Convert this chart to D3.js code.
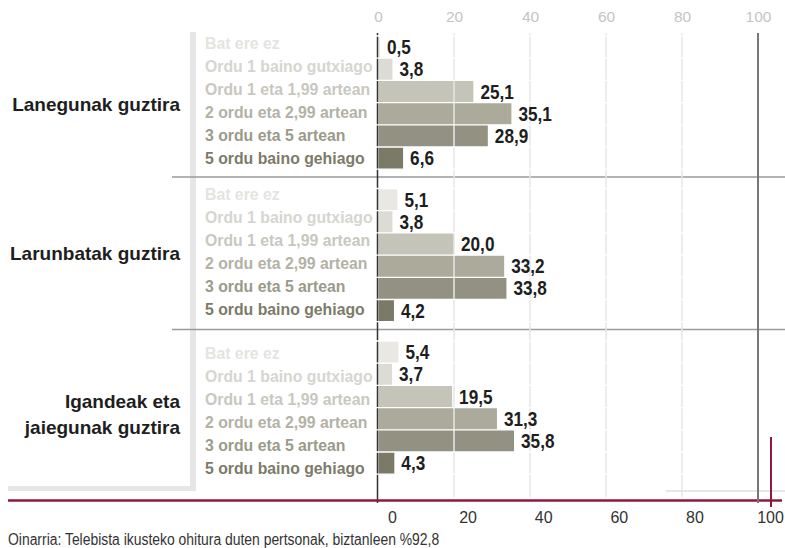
<!DOCTYPE html>
<html><head><meta charset="utf-8">
<script src="https://cdn.jsdelivr.net/npm/d3@7"></script>
<style>
html,body{margin:0;padding:0;background:#fff;}
svg{display:block;}
text{font-family:"Liberation Sans", Arial, Helvetica, sans-serif;}
</style></head><body>
<svg id="chart" width="785" height="548"></svg>
<script>
// ---- data ----
const groups = ["Lanegunak guztira", "Larunbatak guztira", "Igandeak eta jaiegunak guztira"];
const groupLines = [["Lanegunak guztira"], ["Larunbatak guztira"], ["Igandeak eta", "jaiegunak guztira"]];
const categories = ["Bat ere ez", "Ordu 1 baino gutxiago", "Ordu 1 eta 1,99 artean",
                    "2 ordu eta 2,99 artean", "3 ordu eta 5 artean", "5 ordu baino gehiago"];
const lanegunak  = [0.5, 3.8, 25.1, 35.1, 28.9, 6.6];
const larunbatak = [5.1, 3.8, 20.0, 33.2, 33.8, 4.2];
const igandeak   = [5.4, 3.7, 19.5, 31.3, 35.8, 4.3];
const seriesValues = [lanegunak, larunbatak, igandeak];
const tickValues = [0, 20, 40, 60, 80, 100];
const footnote = "Oinarria: Telebista ikusteko ohitura duten pertsonak, biztanleen %92,8";

// ---- styles ----
const barColors   = ["#e9e8e3", "#dcdbd4", "#c5c4b9", "#abaa9b", "#939282", "#7b7a66"];
const labelColors = ["#e4e4e0", "#d6d6d0", "#c8c8bf", "#b3b2a5", "#9b9a89", "#7c7b69"];
const crimson = "#8e1a3b";
const rowLabelShift = [0, -1.5, 5];
const groupLabelShift = [0, -4, 5];

const svg = d3.select("#chart");

// ---- scales ----
const x = d3.scaleLinear().domain([0, 100]).range([378, 758]);
const xb = d3.scaleLinear().domain([0, 100]).range([392, 770]);
const gy = d3.scaleBand().domain(groups).range([24.5, 482]).padding(0);
const ry = d3.scaleBand().domain(categories).range([11.5, 144.7]).padding(0);

const rows = [];
groups.forEach((g, gi) => {
  categories.forEach((c, ci) => {
    rows.push({g, gi, c, ci, v: seriesValues[gi][ci], y: gy(g) + ry(c)});
  });
});

// ---- left L band ----
svg.append("rect").attr("x", 190).attr("y", 32).attr("width", 6).attr("height", 459).attr("fill", "#e6e6e6");
svg.append("rect").attr("x", 8).attr("y", 486).attr("width", 188).attr("height", 5).attr("fill", "#e6e6e6");

// ---- group separators ----
svg.selectAll("line.sep").data(groups.slice(1)).join("line")
  .attr("x1", 172).attr("x2", 785)
  .attr("y1", d => gy(d)).attr("y2", d => gy(d))
  .attr("stroke", "#9a9a9a").attr("stroke-width", 1.5);

// ---- bars ----
svg.selectAll("rect.bar").data(rows).join("rect")
  .attr("x", x(0) + 0.5)
  .attr("y", d => d.y)
  .attr("width", d => x(d.v) - x(0) - 0.5)
  .attr("height", ry.bandwidth())
  .attr("fill", d => barColors[d.ci]);

// ---- grid lines ----
svg.selectAll("line.grid").data(tickValues.slice(1, 5)).join("line")
  .attr("x1", d => x(d)).attr("x2", d => x(d))
  .attr("y1", 33).attr("y2", 497)
  .attr("stroke", "#e6e6e6").attr("stroke-width", 1.5);

// zero line
svg.append("line").attr("x1", x(0) - 0.5).attr("x2", x(0) - 0.5).attr("y1", 33).attr("y2", 503)
  .attr("stroke", "#333").attr("stroke-width", 1.5);

// white gaps at row boundaries
const bounds = [];
groups.forEach(g => { for (let k = 0; k <= categories.length; k++) bounds.push(gy(g) + ry.range()[0] + k * ry.step()); });
svg.selectAll("line.gap").data(bounds).join("line")
  .attr("x1", 370).attr("x2", 756)
  .attr("y1", d => d).attr("y2", d => d)
  .attr("stroke", "#fff").attr("stroke-width", 1.3);

// crimson baseline and light line
svg.append("line").attr("x1", 666).attr("x2", 785).attr("y1", 491).attr("y2", 491)
  .attr("stroke", "#e6e6e6").attr("stroke-width", 2);
svg.append("line").attr("x1", 8).attr("x2", 782).attr("y1", 500.5).attr("y2", 500.5)
  .attr("stroke", crimson).attr("stroke-width", 2.5);

// 100 line
svg.append("line").attr("x1", x(100)).attr("x2", x(100)).attr("y1", 33).attr("y2", 503)
  .attr("stroke", "#777").attr("stroke-width", 2);
// crimson vertical
svg.append("line").attr("x1", xb(100) + 1).attr("x2", xb(100) + 1).attr("y1", 437).attr("y2", 507)
  .attr("stroke", crimson).attr("stroke-width", 2);

// ---- top axis ----
const topAxis = svg.append("g").attr("transform", "translate(0,22)")
  .call(d3.axisTop(x).tickValues(tickValues).tickSize(0).tickPadding(0));
topAxis.select(".domain").remove();
topAxis.attr("font-size", 15.5).attr("font-family", null);
topAxis.selectAll("text").attr("fill", "#c4c4c4").attr("y", 0).attr("dy", 0);

// ---- bottom axis ----
const botAxis = svg.append("g").attr("transform", "translate(0,523)")
  .call(d3.axisBottom(xb).tickValues(tickValues).tickSize(0).tickPadding(0));
botAxis.select(".domain").remove();
botAxis.attr("font-size", 16).attr("font-family", null);
botAxis.selectAll("text").attr("fill", "#333").attr("y", 0).attr("dy", 0);

// ---- row labels ----
svg.selectAll("text.rowlab").data(rows).join("text")
  .attr("x", 205)
  .attr("y", d => gy(d.g) + 24 + d.ci * 23 + rowLabelShift[d.gi])
  .attr("font-size", 15.8).attr("font-weight", "bold")
  .attr("fill", d => labelColors[d.ci])
  .text(d => d.c);

// ---- value labels ----
const fmt = v => d3.format(".1f")(v).replace(".", ",");
svg.selectAll("text.val").data(rows).join("text")
  .attr("transform", d => `translate(${x(d.v) + 7},${d.y + ry.bandwidth() / 2 + 7}) scale(0.86,1)`)
  .attr("font-size", 20).attr("font-weight", "bold")
  .attr("fill", "#1e1e1e")
  .text(d => fmt(d.v));

// ---- group labels ----
groups.forEach((g, gi) => {
  const lines = groupLines[gi];
  const base = gy(g) + ry.range()[0] + 75 + groupLabelShift[gi];
  lines.forEach((ln, li) => {
    svg.append("text")
      .attr("x", 180)
      .attr("y", base + (li - (lines.length - 1) / 2) * 26)
      .attr("text-anchor", "end")
      .attr("font-size", 19).attr("font-weight", "bold")
      .attr("fill", "#1e1e1e")
      .text(ln);
  });
});

// ---- footnote ----
svg.append("text").attr("x", 8).attr("y", 545)
  .attr("font-size", 16).attr("fill", "#333")
  .attr("transform", "translate(8,0) scale(0.87,1) translate(-8,0)")
  .text(footnote);
</script>
</body></html>
